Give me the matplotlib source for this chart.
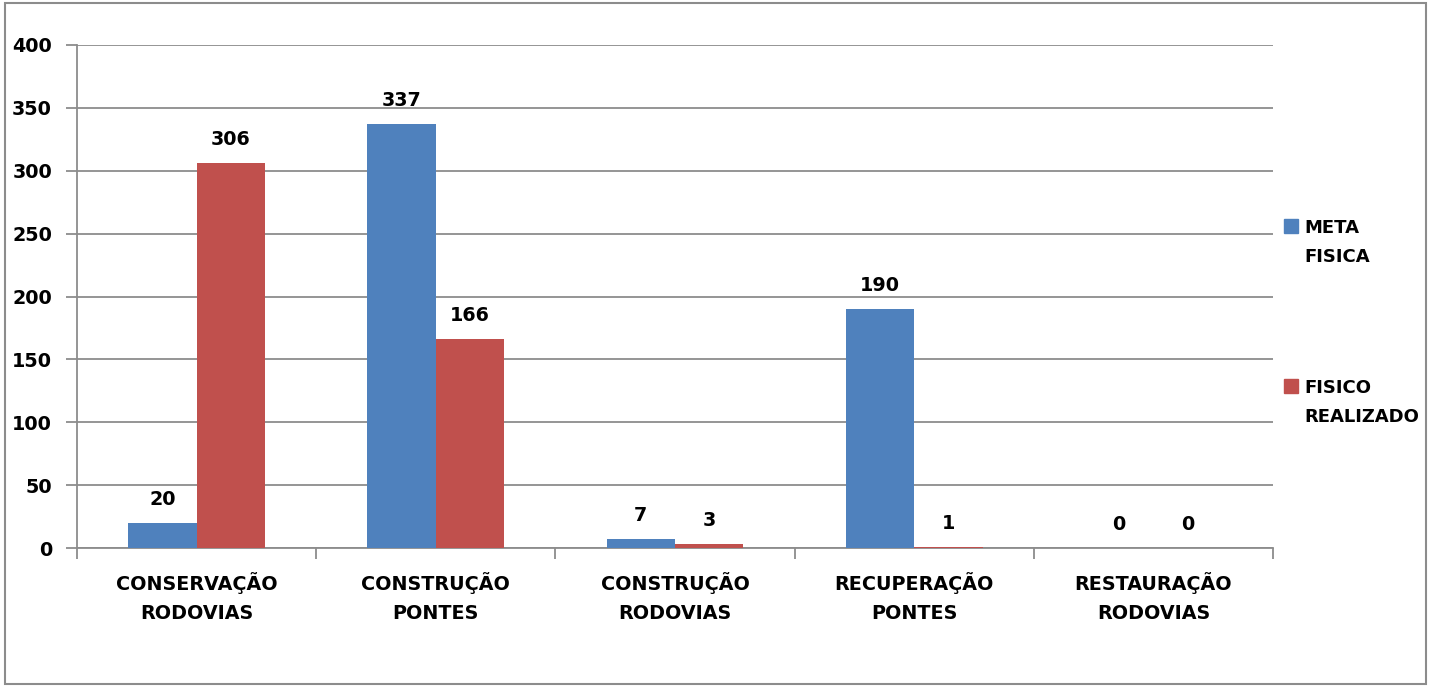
import numpy as np
import matplotlib.pyplot as plt
from matplotlib.patches import Rectangle

# dados do grafico
categorias = ['CONSERVAÇÃO\nRODOVIAS', 'CONSTRUÇÃO\nPONTES', 'CONSTRUÇÃO\nRODOVIAS',
              'RECUPERAÇÃO\nPONTES', 'RESTAURAÇÃO\nRODOVIAS']
meta_fisica = [20, 337, 7, 190, 0]
fisico_realizado = [306, 166, 3, 1, 0]
y_ticks = [0, 50, 100, 150, 200, 250, 300, 350, 400]
series = ['META\nFISICA', 'FISICO\nREALIZADO']
cores = ['#4F81BD', '#C0504D']

plt.rcParams['font.family'] = ['DejaVu Sans']
plt.rcParams['font.weight'] = 'bold'

W, H = 1434, 686
fig = plt.figure(figsize=(W/100, H/100), dpi=100)
ax = fig.add_axes([77/W, 1-548/H, (1273-77)/W, (548-45)/H])

grid_col = '#8c8c8c'
fs = 13.8
x = np.arange(len(categorias))
w = 0.286
b1 = ax.bar(x - w/2, meta_fisica, width=w, color=cores[0], zorder=3)
b2 = ax.bar(x + w/2, fisico_realizado, width=w, color=cores[1], zorder=3)

for bars in (b1, b2):
    for rect in bars:
        h = rect.get_height()
        ax.annotate(f'{h:.0f}', (rect.get_x() + rect.get_width()/2, h),
                    xytext=(0, 13), textcoords='offset points',
                    ha='center', va='baseline', fontsize=fs, fontweight='bold')

ax.set_xlim(-0.5, len(categorias) - 0.5)
ax.set_ylim(0, 400)
ax.set_yticks(y_ticks)
ax.set_yticklabels([str(v) for v in y_ticks], fontsize=fs, fontweight='bold')
ax.yaxis.grid(True, color=grid_col, linewidth=1.3, zorder=0)
ax.tick_params(axis='y', length=8, width=1.3, color=grid_col, pad=10)

# rotulos das categorias no centro, marcas nas divisas
ax.set_xticks(np.arange(-0.5, len(categorias)), minor=False)
ax.set_xticklabels([])
ax.set_xticks(x, minor=True)
ax.set_xticklabels(categorias, minor=True, fontsize=fs, fontweight='bold', linespacing=1.72)
ax.tick_params(axis='x', which='major', length=8, width=1.3, color=grid_col)
ax.tick_params(axis='x', which='minor', length=0, pad=17)

for s in ('top', 'right'):
    ax.spines[s].set_visible(False)
for s in ('left', 'bottom'):
    ax.spines[s].set_color(grid_col)
    ax.spines[s].set_linewidth(1.3)

# legenda feita a mao (quadrado alinhado com a primeira linha)
for lab, cor, ytop in zip(series, cores, [219, 379]):
    fig.add_artist(Rectangle((1284/W, 1-(ytop+14)/H), 14/W, 14/H,
                             transform=fig.transFigure, color=cor))
    for i, linha in enumerate(lab.split('\n')):
        fig.text(1304/W, 1-(ytop+14+29*i)/H, linha, ha='left', va='baseline',
                 fontsize=13, fontweight='bold')

fig.add_artist(Rectangle((5/W, 1-684/H), 1421/W, 681/H,
                         transform=fig.transFigure, fill=False,
                         edgecolor=grid_col, linewidth=1.5))

fig.savefig('out.png', dpi=100)
